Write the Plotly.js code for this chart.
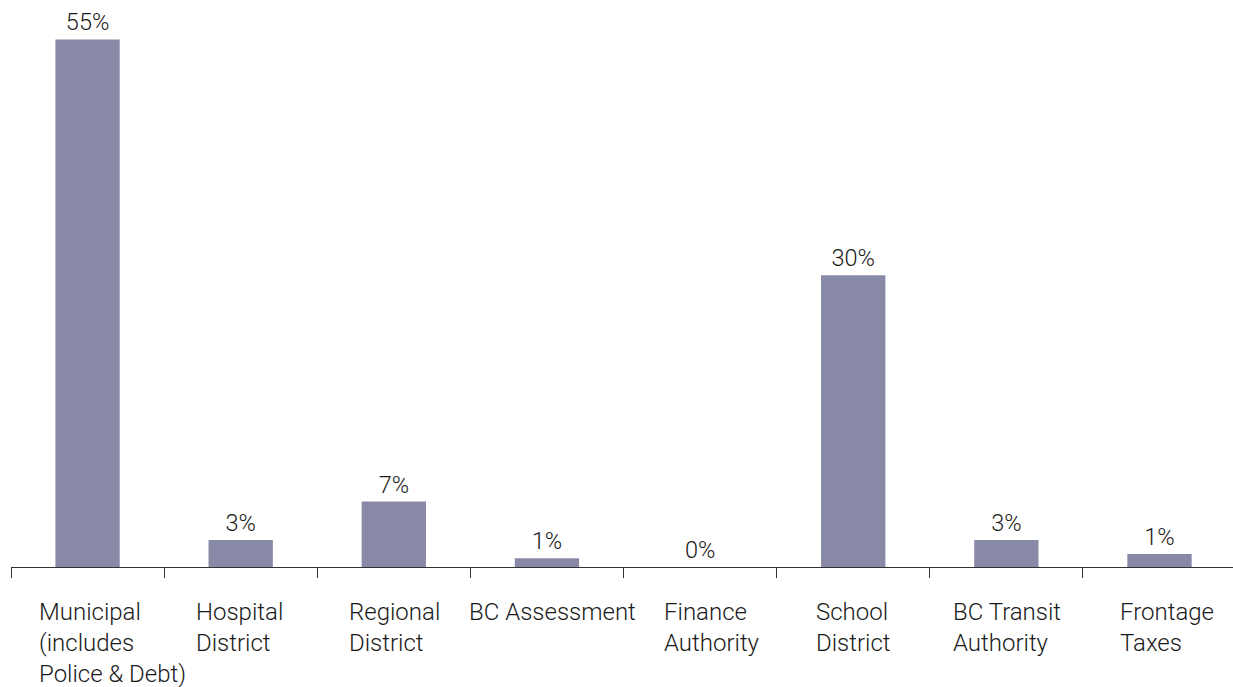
<!DOCTYPE html>
<html>
<head>
<meta charset="utf-8">
<script src="https://cdn.plot.ly/plotly-3.0.1.min.js"></script>
<style>html,body{margin:0;padding:0;background:#fff;}#chart{width:1233px;height:687px;}</style>
</head>
<body>
<div id="chart"></div>
<script>
// Data
var categories = ["Municipal", "Hospital", "Regional", "BC Assessment", "Finance", "School", "BC Transit", "Frontage"];
var shares = [54.8, 2.8, 6.8, 0.9, 0, 30.3, 2.8, 1.35];
var tickLabels = [
  "Municipal<br>(includes<br>Police & Debt)",
  "Hospital<br>District",
  "Regional<br>District",
  "BC Assessment",
  "Finance<br>Authority",
  "School<br>District",
  "BC Transit<br>Authority",
  "Frontage<br>Taxes"
];
var labelShift = [25, -1, 1, 6, 12, 0, 1, 7];

var FONT = "Roboto, Liberation Sans, Arial, sans-serif";
var TXT = "#1a1a1a";

var trace = {
  type: "bar",
  x: categories,
  y: shares,
  width: 0.42,
  marker: {color: "#8889a6", line: {width: 0}},
  texttemplate: "%{y:.0f}%",
  textposition: "outside",
  textfont: {family: FONT, size: 23.5, color: TXT, weight: 300},
  cliponaxis: false,
  hoverinfo: "x+y"
};

var annotations = categories.map(function (c, i) {
  return {
    x: c, xref: "x", y: 0, yref: "paper",
    xanchor: "center", yanchor: "top", align: "left",
    xshift: labelShift[i], yshift: -29,
    showarrow: false,
    text: tickLabels[i],
    font: {family: FONT, size: 24, color: TXT, weight: 300}
  };
});

var layout = {
  width: 1233, height: 687,
  margin: {l: 11, r: 0, t: 0, b: 120, pad: 0},
  paper_bgcolor: "#ffffff", plot_bgcolor: "#ffffff",
  showlegend: false,
  font: {family: FONT, color: TXT, weight: 300},
  xaxis: {
    type: "category",
    range: [-0.5, 7.48],
    showline: true, linecolor: "#333333", linewidth: 1,
    ticks: "outside", tickson: "boundaries", ticklen: 10, tickcolor: "#333333", tickwidth: 1,
    showticklabels: false, showgrid: false, zeroline: false, fixedrange: true
  },
  yaxis: {
    range: [0, 58.9],
    visible: false, showgrid: false, zeroline: false, fixedrange: true
  },
  annotations: annotations
};

Plotly.newPlot("chart", [trace], layout, {displayModeBar: false, staticPlot: true});
</script>
</body>
</html>
